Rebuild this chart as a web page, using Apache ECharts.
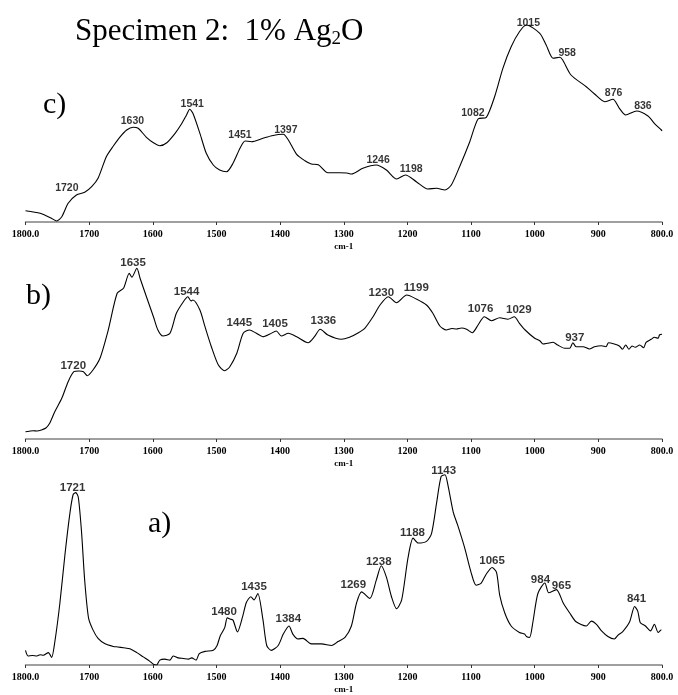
<!DOCTYPE html>
<html>
<head>
	<meta charset="UTF-8">
	<title>Specimen 2</title>
	<script src="https://cdn.jsdelivr.net/npm/echarts@6/dist/echarts.min.js"></script>
	<style>
		body { margin: 0; background: #fff; }
		#main { width: 678px; height: 695px; }
	</style>
</head>
<body>
<div id="main"></div>
<script>
// x axis: wavenumber (cm-1), shown from 1800 down to 800
var xTicks = [1800, 1700, 1600, 1500, 1400, 1300, 1200, 1100, 1000, 900, 800];

// spectra, [wavenumber, height above the panel's axis]
var specC = [[1800,11.3],[1777,8.7],[1760,4],[1751,1],[1743,5.3],[1733,18.7],[1720,27],[1707,29.7],[1696,35.3],[1686,43.7],[1673,65.3],[1662,76],[1652,84.7],[1641,92],[1631,94.7],[1623,93.7],[1610,84.7],[1599,79.3],[1589,76.3],[1578,79.3],[1565,88.7],[1555,98],[1547,107],[1542,112.7],[1537,108.7],[1526,88.7],[1516,68.7],[1505,57],[1495,52],[1484,50.3],[1474,58.7],[1463,73.7],[1455,81],[1445,80.3],[1427,83.7],[1413,86.3],[1395,87.7],[1387,82],[1374,67.7],[1361,61.3],[1351,58],[1340,57.3],[1325,49.3],[1306,49.3],[1295,49],[1288,48],[1270,53.7],[1249,57],[1233,52],[1217,43],[1203,47],[1186,40.3],[1168,33],[1154,33.7],[1141,32],[1131,37],[1118,55.3],[1102,80.3],[1089,103],[1076,104.7],[1063,125.3],[1050,153.7],[1037,175.3],[1024,190.3],[1013,197],[992,188.7],[982,177],[971,163.7],[961,164.7],[956,162],[943,147],[919,135.3],[906,128],[890,120.3],[877,122.7],[867,113.7],[857,107],[840,111],[822,106],[812,98.7],[801,92],[800,91]];

var specB = [[1800,7.3],[1794,7.8],[1788,8.3],[1782,8],[1775,9],[1768,11],[1762,15.7],[1754,27.3],[1743,40.7],[1733,57.3],[1724,67.3],[1716,68],[1709,67.3],[1703,63.3],[1694,69],[1683,80.7],[1670,109],[1656,145.7],[1646,150.7],[1637,165.7],[1633,161.7],[1625,170.7],[1620,160.7],[1610,142.3],[1599,122.3],[1592,109],[1584,103],[1573,105.7],[1563,125.7],[1552,137.3],[1545,142.3],[1540,138],[1537,139],[1526,129],[1518,112.3],[1508,92.3],[1497,74],[1487,68.3],[1479,72.3],[1468,85.7],[1458,105.7],[1448,109],[1438,106],[1427,102.3],[1416,105],[1406,108],[1398,103],[1387,105.7],[1374,102.3],[1356,96.3],[1346,102.3],[1337,109.7],[1325,104],[1304,99.7],[1291,101.7],[1277,106.3],[1267,110.7],[1254,122.3],[1243,134],[1230,142.3],[1217,136.3],[1201,144],[1186,140],[1170,134],[1160,125.7],[1149,113],[1139,109],[1130,110.5],[1123,110],[1115,111],[1107,109.7],[1098,106.3],[1089,114],[1079,122.3],[1068,118.3],[1055,121.3],[1042,119.7],[1032,122.3],[1024,115.7],[1015,109],[1000,100.7],[992,98.3],[987,95],[980,95.7],[971,96.7],[964,94],[953,90.7],[945,90.7],[940,96.3],[935,92.3],[924,92.3],[914,90],[906,92.3],[895,93.3],[888,92.3],[884,96.3],[875,95],[867,93],[862,89.7],[857,94],[852,89.7],[847,93],[842,91.7],[835,94],[829,91.3],[825,96.7],[817,99.7],[812,101.7],[806,100.7],[804,104],[800,104.7]];

var specA = [[1800,15],[1796,9.3],[1789,9.8],[1782,9.3],[1777,10.5],[1772,10],[1764,12.7],[1759,7.7],[1754,23.3],[1746,63.3],[1738,113.3],[1730,156.7],[1725,175],[1721,176.7],[1717,171.7],[1712,136.7],[1707,86.7],[1701,48.3],[1694,36],[1686,27.3],[1675,21.7],[1662,19],[1655,18.5],[1646,17.7],[1636,16.7],[1625,12.7],[1615,8.3],[1605,4],[1599,0.7],[1594,0],[1589,5],[1581,6],[1573,5],[1568,9.3],[1560,7.3],[1552,6.7],[1544,6],[1539,7.3],[1532,5],[1527,11.7],[1518,14],[1505,15],[1499,20],[1494,30],[1487,38.3],[1483,48.3],[1478,47],[1474,46],[1467,34],[1459,49.3],[1453,64],[1446,70],[1441,66.7],[1435,73.3],[1427,46.7],[1421,20],[1414,15],[1403,20],[1395,31.7],[1386,40],[1380,31.7],[1372,26.7],[1364,27.3],[1351,21.7],[1335,21.7],[1319,20],[1309,24],[1298,28.3],[1288,40],[1280,63.3],[1272,75],[1259,68.3],[1249,86.7],[1241,101.7],[1233,90],[1225,70],[1217,57.7],[1209,66.7],[1199,110],[1191,130],[1183,125],[1170,126.7],[1162,135],[1154,166.7],[1147,193.3],[1141,195],[1136,183.3],[1128,156.7],[1121,143.3],[1110,120],[1100,95],[1092,81.7],[1084,84],[1076,93.3],[1067,100],[1060,95],[1055,71.7],[1047,53.3],[1037,40],[1024,33.3],[1016,31.7],[1013,29.3],[1008,28.3],[1003,43.3],[995,73.3],[984,84],[978,74],[966,77.3],[955,63.3],[945,53.3],[935,44.3],[919,40],[911,45],[903,41.7],[895,35],[885,29.3],[875,26.7],[869,30.7],[862,34],[851,44],[843,60],[838,55],[834,43.3],[826,40],[818,35],[812,41.7],[806,33.3],[801,36],[800,36]];

// peak labels, [wavenumber, height, text]
var peaksC = [[1735,34,'1720'],[1632,101,'1630'],[1538,118,'1541'],[1463,87,'1451'],[1391,92,'1397'],[1246,62,'1246'],[1194,53,'1198'],[1097,109,'1082'],[1010,199,'1015'],[949,169,'958'],[876,129,'876'],[830,116,'836']];
var peaksB = [[1725,73,'1720'],[1631,175.7,'1635'],[1547,147.3,'1544'],[1464,115.7,'1445'],[1408,114.7,'1405'],[1332,118,'1336'],[1241,146.3,'1230'],[1186,151.3,'1199'],[1085,129.7,'1076'],[1025,129,'1029'],[937,100.7,'937']];
var peaksA = [[1726,181.7,'1721'],[1488,54.3,'1480'],[1441,80,'1435'],[1387,47.7,'1384'],[1285,82.3,'1269'],[1245,105.7,'1238'],[1192,135.7,'1188'],[1143,199,'1143'],[1067,106.7,'1065'],[991,87.7,'984'],[958,81,'965'],[840,67.7,'841']];

// panels top to bottom: grid top, axis y, label size
var panels = [
	{ name: 'c)', spec: specC, peaks: peaksC, top: 20, axisY: 222, fs: 10.5, tag: [43, 108] },
	{ name: 'b)', spec: specB, peaks: peaksB, top: 250, axisY: 439, fs: 11.5, tag: [26, 299] },
	{ name: 'a)', spec: specA, peaks: peaksA, top: 465, axisY: 670, fs: 11.5, tag: [148, 527] }
];

var chart = echarts.init(document.getElementById('main'));
var grids = [], xAxes = [], yAxes = [], series = [], graphics = [];

panels.forEach(function (p, i) {
	var h = p.axisY - p.top;
	grids.push({ left: 25.5, right: 16, top: p.top, height: h });
	xAxes.push({
		gridIndex: i,
		type: 'value',
		inverse: true,
		min: 800,
		max: 1800,
		interval: 100,
		name: 'cm-1',
		nameLocation: 'middle',
		nameGap: 20,
		nameTextStyle: { fontFamily: 'Liberation Serif', fontWeight: 'bold', fontSize: 9, color: '#000' },
		axisLine: { lineStyle: { color: '#808080', width: 1.5 } },
		axisTick: { length: 3, lineStyle: { color: '#333' } },
		splitLine: { show: false },
		axisLabel: {
			margin: 7,
			fontFamily: 'Liberation Serif',
			fontWeight: 'bold',
			fontSize: 10,
			color: '#000',
			showMinLabel: true,
			showMaxLabel: true,
			formatter: function (v) {
				return (v === 1800 || v === 800) ? v.toFixed(1) : String(v);
			}
		}
	});
	yAxes.push({ gridIndex: i, type: 'value', min: 0, max: h, show: false });
	series.push({
		type: 'line',
		xAxisIndex: i,
		yAxisIndex: i,
		data: p.spec,
		symbol: 'none',
		smooth: 0.25,
		lineStyle: { color: '#000', width: 1.1 },
		silent: true
	});
	series.push({
		type: 'scatter',
		xAxisIndex: i,
		yAxisIndex: i,
		data: p.peaks,
		symbolSize: 0,
		clip: false,
		label: {
			show: true,
			position: 'inside',
			formatter: function (d) { return d.data[2]; },
			fontFamily: 'Liberation Sans',
			fontWeight: 'bold',
			fontSize: p.fs,
			color: '#000'
		}
	});
	graphics.push({
		type: 'text',
		left: p.tag[0],
		top: p.tag[1] - 18,
		style: { text: p.name, font: '30px "Liberation Serif"', fill: '#000' }
	});
});

graphics.push({
	type: 'text',
	left: 75,
	top: 16,
	style: {
		text: 'Specimen 2:  1% Ag{sub|2}O',
		font: '31px "Liberation Serif"',
		fill: '#000',
		rich: {
			sub: { fontSize: 19, fontFamily: 'Liberation Serif', verticalAlign: 'bottom', padding: [0, 0, -2, 0] }
		}
	}
});

chart.setOption({
	animation: false,
	grid: grids,
	xAxis: xAxes,
	yAxis: yAxes,
	series: series,
	graphic: graphics
});
</script>
</body>
</html>
